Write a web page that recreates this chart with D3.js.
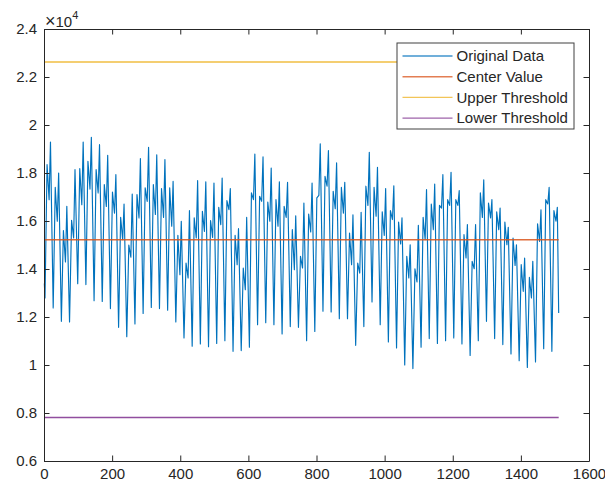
<!DOCTYPE html>
<html>
<head>
<meta charset="utf-8">
<script src="https://cdn.jsdelivr.net/npm/d3@7"></script>
<style>
  body { margin: 0; background: #fff; }
  text { font-family: "Liberation Sans", Arial, Helvetica, sans-serif; fill: #262626; }
</style>
</head>
<body>
<div id="chart"></div>
<script>
// ---- data (values in raw units) ----
const xTicks = [0, 200, 400, 600, 800, 1000, 1200, 1400, 1600];
const yTicks = [6000, 8000, 10000, 12000, 14000, 16000, 18000, 20000, 22000, 24000];

// the series is hourly with a daily cycle: each day has a trough, a first rise,
// a small dip and a second peak before dropping again
const hoursPerDay = 24;
const firstTroughIndex = 3;
const keyHours = [0, 6, 12, 16];
const startPoint = [1, 13400];
const endPoint = [1511, 12170];

const troughValues = [
  12790, 12380, 11820, 11790, 13390, 13350, 12680, 12650, 12350, 11570, 11180,
  11710, 12150, 12400, 12350, 12280, 11790, 11130, 10780, 10880, 10760, 10900,
  11010, 10570, 10600, 10740, 11680, 11760, 11680, 11290, 11600, 11570, 11010,
  11400, 12240, 12210, 11930, 11930, 10820, 11600, 12630, 11680, 10960, 10710,
  10000, 9850, 10740, 11100, 10900, 11010, 11130, 10880, 10400, 11010,
  11820, 11100, 10850, 10460, 10180, 9900, 10130, 10680, 10570
];
const firstPeakValues = [
  18350, 17400, 15600, 16030, 18180, 18490, 18140, 17520, 17210, 16150, 15000,
  17100, 17380, 17520, 17350, 17380, 15400, 14250, 16130, 16400, 16020, 16570,
  16850, 15400, 14040, 17170, 17030, 16790, 16890, 16610, 15640, 14530, 16290,
  16960, 17860, 17240, 17400, 15500, 14250, 17450, 17400, 16380, 16430, 15960,
  14530, 14010, 16150, 16710, 16650, 16890, 16890, 15430, 14320, 17170,
  16750, 16380, 15960, 15290, 14180, 13650, 15880, 16890, 16430
];
const dipValues = [
  16890, 15990, 14290, 15290, 16680, 17330, 17170, 16610, 16330, 15220, 14490,
  16130, 16820, 16270, 16150, 15780, 13760, 13630, 15290, 15570, 15320, 15850,
  16470, 14180, 13140, 16890, 16820, 15990, 15780, 16150, 13970, 14040, 15540,
  17070, 17450, 16510, 16330, 14180, 13830, 16650, 16200, 15400, 16060, 15040,
  13630, 13460, 15220, 15640, 16540, 16650, 16650, 14460, 14010, 16150,
  16130, 15640, 15010, 14150, 13070, 12790, 15150, 16710, 15990
];
const secondPeakValues = [
  19290, 18000, 16610, 18140, 19290, 19490, 19180, 18740, 17930, 16710, 17120,
  18600, 19070, 18760, 18560, 17650, 15990, 16430, 17680, 17630, 17580, 17790,
  17350, 15680, 16150, 18790, 18670, 18210, 17630, 17610, 16220, 16750, 17580,
  19220, 18930, 18420, 17610, 16260, 16360, 18860, 18240, 17350, 17470, 16130,
  15010, 15820, 17310, 17540, 17930, 18030, 17270, 15850, 15850, 17720,
  16890, 16540, 15740, 15010, 14460, 14320, 16470, 17400, 16570
];

const centerValue = 15220;
const upperThreshold = 22625;
const lowerThreshold = 7810;
const lineRange = [1, 1511];

const seriesNames = ["Original Data", "Center Value", "Upper Threshold", "Lower Threshold"];
const seriesColors = ["#0072BD", "#D95319", "#EDB120", "#7E2F8E"];

// ---- layout ----
const WIDTH = 605, HEIGHT = 488;
const margin = { top: 29, right: 16, bottom: 27, left: 44 };
const innerW = WIDTH - margin.left - margin.right;
const innerH = HEIGHT - margin.top - margin.bottom;
const FONT = 15;

const svg = d3.select("#chart").append("svg")
  .attr("width", WIDTH).attr("height", HEIGHT);
svg.append("rect").attr("width", WIDTH).attr("height", HEIGHT).attr("fill", "#fff");

const g = svg.append("g").attr("transform", `translate(${margin.left},${margin.top})`);

const x = d3.scaleLinear().domain([0, 1600]).range([0, innerW]);
const y = d3.scaleLinear().domain([6000, 24000]).range([innerH, 0]);

// build the key points of the series
const points = [startPoint];
troughValues.forEach((t, d) => {
  const base = firstTroughIndex + d * hoursPerDay;
  points.push([base + keyHours[0], t]);
  points.push([base + keyHours[1], firstPeakValues[d]]);
  points.push([base + keyHours[2], dipValues[d]]);
  points.push([base + keyHours[3], secondPeakValues[d]]);
});
points.push(endPoint);

const line = d3.line().x(d => x(d[0])).y(d => y(d[1]));

g.append("path")
  .datum(points)
  .attr("fill", "none")
  .attr("stroke", seriesColors[0])
  .attr("stroke-width", 1.15)
  .attr("stroke-linejoin", "round")
  .attr("d", line);

[centerValue, upperThreshold, lowerThreshold].forEach((v, i) => {
  g.append("path")
    .datum(lineRange.map(k => [k, v]))
    .attr("fill", "none")
    .attr("stroke", seriesColors[i + 1])
    .attr("stroke-width", 1.4)
    .attr("stroke-opacity", 0.85)
    .attr("d", line);
});

// ---- axes (matlab style: box, ticks inward on all sides) ----
const TICK = 5.5;
const fmtY = d => d3.format("~g")(d / 1e4);

function styleAxis(sel) {
  sel.selectAll(".domain").attr("stroke", "#262626").attr("stroke-width", 1);
  sel.selectAll(".tick line").attr("stroke", "#262626").attr("stroke-width", 1);
  sel.selectAll("text").attr("font-size", FONT).attr("fill", "#262626")
    .attr("font-family", '"Liberation Sans", Arial, sans-serif');
}

g.append("g").attr("transform", `translate(0,${innerH})`)
  .call(d3.axisBottom(x).tickValues(xTicks).tickFormat(d3.format("d"))
    .tickSizeInner(-TICK).tickSizeOuter(0).tickPadding(7))
  .call(styleAxis);
g.append("g")
  .call(d3.axisTop(x).tickValues(xTicks).tickSizeInner(-TICK).tickSizeOuter(0).tickFormat(""))
  .call(styleAxis);
g.append("g")
  .call(d3.axisLeft(y).tickValues(yTicks).tickSizeInner(-TICK).tickSizeOuter(0).tickPadding(7).tickFormat(fmtY))
  .call(styleAxis);
g.append("g").attr("transform", `translate(${innerW},0)`)
  .call(d3.axisRight(y).tickValues(yTicks).tickSizeInner(-TICK).tickSizeOuter(0).tickFormat(""))
  .call(styleAxis);

// exponent label
const expo = svg.append("text").attr("x", margin.left + 1).attr("y", 26.5).attr("font-size", FONT);
expo.append("tspan").attr("font-size", 18).text("\u00d7");
expo.append("tspan").text("10");
expo.append("tspan").attr("font-size", 11).attr("dy", -7.5).text("4");

// ---- legend ----
const legend = svg.append("g").attr("transform", "translate(397,43)");
legend.append("rect")
  .attr("width", 177).attr("height", 86)
  .attr("fill", "#fff").attr("stroke", "#404040").attr("stroke-width", 1);

seriesNames.forEach((name, i) => {
  const row = legend.append("g").attr("transform", `translate(0,${13 + i * 20.7})`);
  row.append("line")
    .attr("x1", 5.5).attr("x2", 55.5)
    .attr("stroke", seriesColors[i]).attr("stroke-width", 1.4).attr("stroke-opacity", 0.75);
  row.append("text")
    .attr("x", 59.5).attr("dy", "0.35em").attr("font-size", FONT)
    .text(name);
});
</script>
</body>
</html>
